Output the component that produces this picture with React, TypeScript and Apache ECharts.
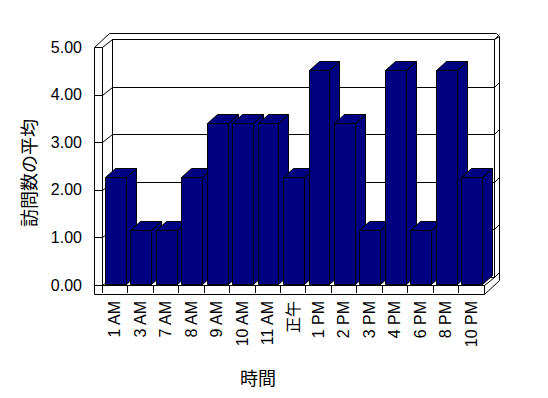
import React, { useEffect, useRef } from "react";
import * as echarts from "echarts";

const categories = ["1 AM", "3 AM", "7 AM", "8 AM", "9 AM", "10 AM", "11 AM", "正午", "1 PM", "2 PM", "3 PM", "4 PM", "6 PM", "8 PM", "10 PM"];
const visits = [2.25, 1.13, 1.13, 2.25, 3.38, 3.38, 3.38, 2.25, 4.5, 3.38, 1.13, 4.5, 1.13, 4.5, 2.25];
const yTicks = [0, 1, 2, 3, 4, 5];
const yAxisTitle = "訪問数の平均";
const xAxisTitle = "時間";

const LATIN = "'Liberation Sans', 'Noto Sans CJK JP', sans-serif";
const CJK = "'Noto Sans CJK JP', sans-serif";
const BAR = "#000080";

const c = (v: number) => Math.round(v) + 0.5;
const pt = (x: number, y: number) => [c(x), c(y)];
const lineStyle = { stroke: "#000", lineWidth: 1, fill: "none" };

function renderFrame(params: any, api: any) {
  const cs = params.coordSys;
  const L = cs.x, R = cs.x + cs.width, T = cs.y, B = cs.y + cs.height;
  const W = 8, F = 9;
  const dx = 10, dy = -8;
  const odx = 15, ody = -14;
  const lx = L - W;
  const children: any[] = [];
  children.push({
    type: "polygon",
    shape: { points: [pt(lx, T), pt(lx + odx, T + ody), pt(R + odx - 3, T + ody), pt(R + odx, T + ody + 3), pt(R + odx, B + F + ody), pt(R, B + F), pt(lx, B + F)] },
    style: { stroke: "#000", lineWidth: 1, fill: "#fff" },
  });
  children.push({
    type: "polygon",
    shape: { points: [pt(L + dx, T + dy), pt(R + dx, T + dy), pt(R + dx, B + dy), pt(L + dx, B + dy)] },
    style: { stroke: "#000", lineWidth: 1, fill: "#fff" },
  });
  children.push({ type: "polyline", shape: { points: [pt(R + dx, T + dy), pt(R + odx, T + ody + 3)] }, style: lineStyle });
  children.push({ type: "polyline", shape: { points: [pt(L, T), pt(L, B)] }, style: lineStyle });
  yTicks.forEach((v) => {
    const y = api.coord([0, v])[1];
    children.push({
      type: "polyline",
      shape: { points: [pt(lx, y), pt(L, y), pt(L + dx, y + dy), pt(R + dx, y + dy), pt(R + odx, y + dy - 5)] },
      style: lineStyle,
    });
  });
  children.push({ type: "polyline", shape: { points: [pt(R, B), pt(R + dx, B + dy)] }, style: lineStyle });
  children.push({ type: "polyline", shape: { points: [pt(R, B), pt(R, B + F)] }, style: lineStyle });
  return { type: "group", children };
}

function renderBar(params: any, api: any) {
  const i = api.value(0);
  const v = api.value(1);
  const [cx, yt] = api.coord([i, v]);
  const yb = api.coord([i, 0])[1];
  const bw = api.size([1, 0])[0];
  const x0 = c(cx - bw * 0.39);
  const x1 = c(cx - bw * 0.39 + bw * 0.82);
  const yTop = c(yt - 1);
  const yBot = c(yb - 1);
  const dx = 10, dy = -9;
  const st = { stroke: "#000", lineWidth: 1, fill: BAR };
  return {
    type: "group",
    children: [
      { type: "polygon", shape: { points: [[x1, yTop], [x1 + dx, yTop + dy], [x1 + dx, yBot + dy], [x1, yBot]] }, style: st },
      { type: "polygon", shape: { points: [[x0, yTop], [x0 + dx, yTop + dy], [x1 + dx, yTop + dy], [x1, yTop]] }, style: st },
      { type: "polygon", shape: { points: [[x0, yTop], [x1, yTop], [x1, yBot], [x0, yBot]] }, style: st },
    ],
  };
}

export default function App() {
  const ref = useRef<HTMLDivElement>(null);
  useEffect(() => {
    const chart = echarts.init(ref.current!, null, { renderer: "svg" });
    const option: any = {
      animation: false,
      backgroundColor: "#fff",
      grid: { left: 102, right: 64, top: 47, bottom: 113, containLabel: false, outerBoundsMode: "none" },
      xAxis: {
        type: "category",
        data: categories,
        z: 5,
        axisLine: { show: true, lineStyle: { color: "#000", width: 1 } },
        axisTick: { show: true, length: 8, interval: 0, lineStyle: { color: "#000", width: 1 } },
        axisLabel: { interval: 0, rotate: 90, margin: 16, color: "#000", fontSize: 16, fontFamily: LATIN },
        splitLine: { show: false },
      },
      yAxis: {
        type: "value",
        min: 0,
        max: 5,
        interval: 1,
        axisLine: { show: false },
        axisTick: { show: false },
        splitLine: { show: false },
        axisLabel: { margin: 20, color: "#000", fontSize: 16, fontFamily: LATIN, formatter: (v: number) => v.toFixed(2) },
      },
      graphic: [
        {
          type: "text", x: 28, y: 173, rotation: Math.PI / 2,
          style: { text: yAxisTitle, fontSize: 18, fontFamily: CJK, fill: "#000", align: "center", verticalAlign: "middle", textAlign: "center", textVerticalAlign: "middle" },
        },
        {
          type: "text", x: 258, y: 377,
          style: { text: xAxisTitle, fontSize: 18, fontFamily: CJK, fill: "#000", align: "center", verticalAlign: "middle", textAlign: "center", textVerticalAlign: "middle" },
        },
      ],
      series: [
        { type: "custom", name: "frame", z: 1, silent: true, renderItem: renderFrame, data: [[0, 0]], encode: { x: 0, y: 1 } },
        { type: "custom", name: "visits", z: 2, renderItem: renderBar, data: visits.map((v, i) => [i, v]), encode: { x: 0, y: 1 } },
      ],
    };
    chart.setOption(option);
    return () => chart.dispose();
  }, []);
  return <div ref={ref} style={{ position: "fixed", left: 0, top: 0, width: 548, height: 398, background: "#fff" }} />;
}
